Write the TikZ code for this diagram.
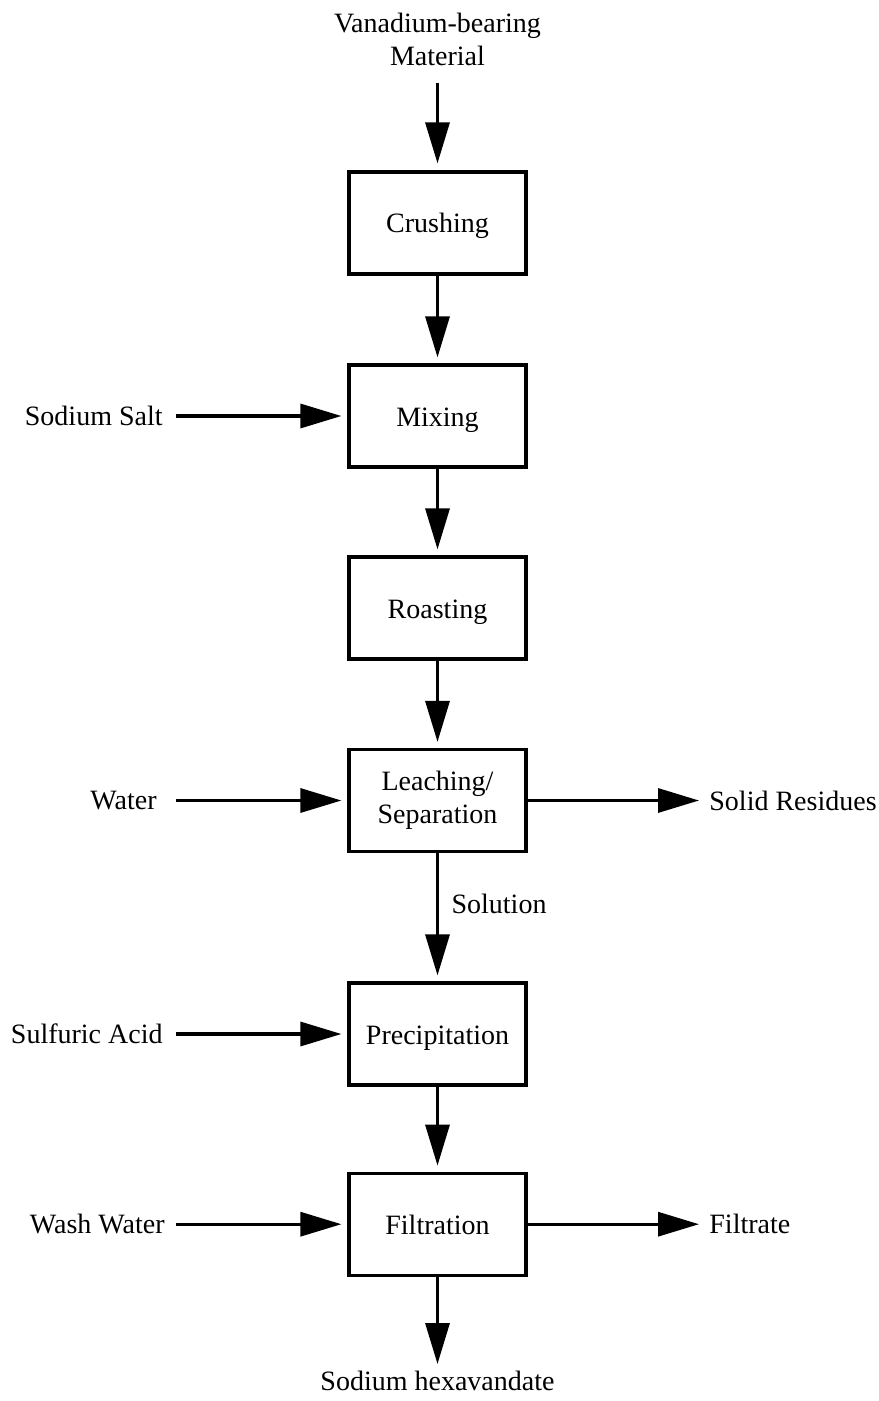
\documentclass[tikz,border=0pt]{standalone}
\usepackage{fontspec}
\setmainfont{Liberation Serif}
\usetikzlibrary{arrows.meta}
\begin{document}
\begin{tikzpicture}[x=0.5pt,y=-0.5pt,
  font=\fontsize{14}{16.5}\selectfont,
  stage/.style={draw, line width=1.6pt, minimum width=88.5pt, minimum height=51pt,
    align=center, inner sep=2pt},
  oneline/.style={text height=12pt, text depth=2pt},
  tag/.style={inner sep=0pt, align=center},
  flow/.style={line width=1.6pt, -{Triangle[length=20.5pt,width=12pt]}, shorten >=3pt}]
  \path[use as bounding box] (0,0) rectangle (878,1401);

  % process stages
  \node[stage, oneline] (crush) at (437.5,223)   {Crushing};
  \node[stage, oneline] (mix)   at (437.5,416)   {Mixing};
  \node[stage, oneline] (roast) at (437.5,608)   {Roasting};
  \node[stage] (leach) at (437.5,800.5) {Leaching/\\Separation};
  \node[stage, oneline] (prec)  at (437.5,1034)  {Precipitation};
  \node[stage, oneline] (filt)  at (437.5,1224.2){Filtration};

  % feeds and products
  \node[tag, anchor=north] (feed) at (437.5,13) {Vanadium-bearing\\Material};
  \node[tag, anchor=east] (salt)  at (163,416)  {Sodium Salt};
  \node[tag, anchor=east] (water) at (157,800.5){Water};
  \node[tag, anchor=east] (acid)  at (163,1034) {Sulfuric Acid};
  \node[tag, anchor=east] (wash)  at (165,1224.2){Wash Water};
  \node[tag, anchor=west] (resid) at (709,800.5){Solid Residues};
  \node[tag, anchor=west] (filtr) at (709,1224.2){Filtrate};
  \node[tag, anchor=north] (prod) at (437.5,1371) {Sodium hexavandate};

  % main line
  \draw[flow, shorten <=8.5pt, shorten >=3.5pt] (feed.south) -- (crush.north);
  \draw[flow] (crush.south) -- (mix.north);
  \draw[flow] (mix.south) -- (roast.north);
  \draw[flow] (roast.south) -- (leach.north);
  \draw[flow] (leach.south) -- node[pos=0.38, tag, anchor=west, xshift=6.25pt, yshift=-1pt] {Solution} (prec.north);
  \draw[flow] (prec.south) -- (filt.north);
  \draw[flow, shorten >=3.5pt] (filt.south) -- (prod.north);

  % side streams
  \draw[flow, shorten <=6.5pt] (salt.east) -- (salt.east -| mix.west);
  \draw[flow, shorten <=9.5pt] (water.east) -- (water.east -| leach.west);
  \draw[flow, shorten <=6.5pt] (acid.east) -- (acid.east -| prec.west);
  \draw[flow, shorten <=5.5pt] (wash.east) -- (wash.east -| filt.west);
  \draw[flow, shorten >=5pt] (resid.west -| leach.east) -- (resid.west);
  \draw[flow, shorten >=5pt] (filtr.west -| filt.east) -- (filtr.west);
\end{tikzpicture}
\end{document}
